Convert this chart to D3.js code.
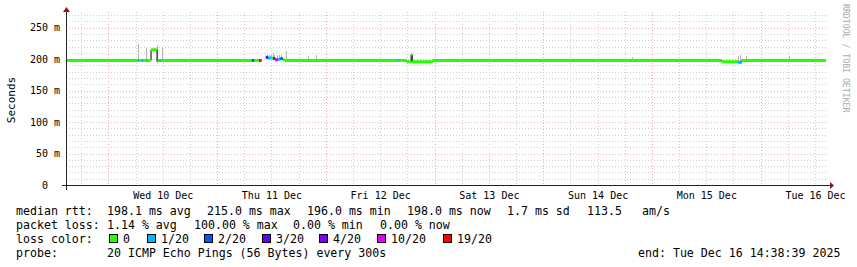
<!DOCTYPE html>
<html>
<head>
<meta charset="utf-8">
<script src="https://cdn.jsdelivr.net/npm/d3@7/dist/d3.min.js"></script>
<style>
  body { margin: 0; background: #fff; }
  text { font-family: "DejaVu Sans Mono", monospace; }
</style>
</head>
<body>
<div id="chart"></div>
<script>
// time range of the graph (UTC)
var startTime = "2025-12-09 14:38:39",
    endTime = "2025-12-16 14:38:39"

// median rtt as steps, each one lasts until the next start (ms, null = no data)
var stepStart = ["2025-12-09 14:38", "2025-12-10 06:30", "2025-12-10 06:45", "2025-12-10 07:25",
    "2025-12-10 07:40", "2025-12-10 08:30", "2025-12-10 08:45", "2025-12-10 09:25",
    "2025-12-10 10:45", "2025-12-10 11:00", "2025-12-10 11:20", "2025-12-10 11:35",
    "2025-12-11 07:40", "2025-12-11 08:10", "2025-12-11 09:15", "2025-12-11 09:50",
    "2025-12-11 10:45", "2025-12-11 11:15", "2025-12-11 11:55", "2025-12-11 12:20",
    "2025-12-11 12:50", "2025-12-11 13:25", "2025-12-11 14:00", "2025-12-11 14:30",
    "2025-12-11 15:00", "2025-12-12 15:55", "2025-12-12 16:10", "2025-12-12 17:55",
    "2025-12-12 18:50", "2025-12-12 19:05", "2025-12-12 23:40", "2025-12-15 15:25",
    "2025-12-15 19:00", "2025-12-15 19:50", "2025-12-16 14:25"]
var stepMedian = [198, 198, 198, 198,
    198, 198, 198, 215,
    196, 198, 198, 198,
    198, 198, 198, null,
    203, 202, 202, 201,
    199, 200, 201, 199,
    198, 198, 198, 196,
    207, 196, 198, 196,
    195, 198, null]
// lost pings out of 20
var stepLoss = [0, 1, 0, 1,
    0, 1, 0, 0,
    0, 0, 1, 0,
    2, 0, 19, 0,
    3, 1, 0, 4,
    10, 1, 2, 0,
    0, 1, 0, 0,
    0, 0, 0, 0,
    1, 0, 0]

// smoke (spread of the pings)
var smokeTime = ["2025-12-10 06:30", "2025-12-10 08:15", "2025-12-10 10:45", "2025-12-10 11:50",
    "2025-12-11 11:00", "2025-12-11 11:30", "2025-12-11 12:00", "2025-12-11 12:20",
    "2025-12-11 12:40", "2025-12-11 13:10", "2025-12-11 13:40", "2025-12-11 14:10",
    "2025-12-11 15:10", "2025-12-11 20:05", "2025-12-11 21:50", "2025-12-14 19:35",
    "2025-12-15 19:05", "2025-12-15 19:30", "2025-12-15 20:45", "2025-12-16 06:15"]
var smokeLow = [198, 198, 198, 198, 200, 200, 200, 199, 199, 198, 199, 199,
    198, 198, 198, 198, 195, 195, 198, 198]
var smokeHigh = [224, 218, 222, 218, 206, 207, 206, 210, 207, 206, 207, 206,
    213, 205, 206, 203, 205, 206, 205, 205]

var lossLevels = [0, 1, 2, 3, 4, 10, 19]
var lossLabels = ["0", "1/20", "2/20", "3/20", "4/20", "10/20", "19/20"]
var lossColors = ["#26ff00", "#00b8ff", "#0059ff", "#5e00ff", "#7e00ff", "#dd00ff", "#ff0000"]

var yTicks = [0, 50, 100, 150, 200, 250]

var rttStats = ["198.1 ms avg", "215.0 ms max", "196.0 ms min", "198.0 ms now", "1.7 ms sd", "113.5", "am/s"]
var lossStats = ["1.14 % avg", "100.00 % max", "0.00 % min", "0.00 % now"]
var probeText = "20 ICMP Echo Pings (56 Bytes) every 300s"

var W = 857, H = 267
var pLeft = 66, pRight = 827, pTop = 12, pBottom = 185

var parse = d3.utcParse("%Y-%m-%d %H:%M"),
    parseS = d3.utcParse("%Y-%m-%d %H:%M:%S")
var t0 = parseS(startTime), t1 = parseS(endTime)

var x = d3.scaleUtc().domain([t0, t1]).range([pLeft, pRight])
var y = d3.scaleLinear().domain([0, 275]).range([pBottom, pTop])
var lossColor = d3.scaleOrdinal().domain(lossLevels).range(lossColors)

var svg = d3.select("#chart")
  .append("svg")
    .attr("width", W)
    .attr("height", H)

var grid = svg.append("g").attr("shape-rendering", "crispEdges")
var minorCol = "#cfcfcf", majorCol = "#eab0b0"

// minor grid
d3.range(10, 280, 10).filter(function(v) { return v % 50 != 0 }).forEach(function(v) {
  var yy = Math.round(y(v)) + 0.5
  grid.append("line").attr("x1", pLeft).attr("x2", pRight).attr("y1", yy).attr("y2", yy)
    .attr("stroke", minorCol).attr("stroke-dasharray", "1,2")
})
d3.utcHour.every(6).range(t0, t1).forEach(function(d) {
  if (d.getUTCHours() == 0) return
  var xx = Math.round(x(d)) + 0.5
  grid.append("line").attr("x1", xx).attr("x2", xx).attr("y1", pTop).attr("y2", pBottom)
    .attr("stroke", minorCol).attr("stroke-dasharray", "1,2")
})
// major grid
yTicks.slice(1).forEach(function(v) {
  var yy = Math.round(y(v)) + 0.5
  grid.append("line").attr("x1", pLeft).attr("x2", pRight).attr("y1", yy).attr("y2", yy)
    .attr("stroke", majorCol).attr("stroke-dasharray", "1,2")
})
d3.utcDay.range(t0, t1).forEach(function(d) {
  var xx = Math.round(x(d)) + 0.5
  grid.append("line").attr("x1", xx).attr("x2", xx).attr("y1", pTop).attr("y2", pBottom)
    .attr("stroke", majorCol).attr("stroke-dasharray", "1,2")
})

var steps = stepStart.map(function(s, i) {
  return {t: parse(s), v: stepMedian[i], loss: stepLoss[i]}
})

// smoke
svg.append("g").attr("shape-rendering", "crispEdges")
  .selectAll("rect")
  .data(smokeTime)
  .enter()
  .append("rect")
    .attr("x", function(d) { return Math.round(x(parse(d))) })
    .attr("width", function(d) { return Math.max(1, Math.round(x(d3.utcMinute.offset(parse(d), 15)) - x(parse(d)))) })
    .attr("y", function(d, i) { return Math.round(y(smokeHigh[i])) })
    .attr("height", function(d, i) { return Math.round(y(smokeLow[i]) - y(smokeHigh[i])) })
    .attr("fill", "#b4b4b4")

// thin dark median line (shows at the jumps)
var thin = d3.line()
  .defined(function(d) { return d.v != null })
  .x(function(d) { return x(d.t) })
  .y(function(d) { return y(d.v) })
  .curve(d3.curveStepAfter)

svg.append("path")
  .datum(steps)
  .attr("d", thin)
  .attr("fill", "none")
  .attr("stroke", "#000")
  .attr("stroke-width", 1)

// thick median coloured by loss
svg.append("g")
  .selectAll("line")
  .data(steps.slice(0, -1).filter(function(d) { return d.v != null }))
  .enter()
  .append("line")
    .attr("x1", function(d) { return x(d.t) })
    .attr("x2", function(d) { return x(steps[steps.indexOf(d) + 1].t) })
    .attr("y1", function(d) { return y(d.v) })
    .attr("y2", function(d) { return y(d.v) })
    .attr("stroke", function(d) { return lossColor(d.loss) })
    .attr("stroke-width", 3)

// axes
var yAxis = svg.append("g")
  .attr("transform", "translate(" + pLeft + ",0)")
  .call(d3.axisLeft(y).tickValues(yTicks).tickSize(0).tickPadding(6)
    .tickFormat(function(d) { return d == 0 ? "0  " : d + " m" }))
yAxis.select(".domain").remove()
yAxis.selectAll("text").style("font-size", "10px").style("white-space", "pre")
  .attr("fill", "#000").style("font-family", "DejaVu Sans Mono")

var noons = d3.utcDay.range(d3.utcDay.floor(t0), t1)
  .map(function(d) { return d3.utcHour.offset(d, 12) })
  .filter(function(d) { return d > t0 && d < t1 })
var xAxis = svg.append("g")
  .attr("transform", "translate(0," + pBottom + ")")
  .call(d3.axisBottom(x).tickValues(noons).tickSize(0).tickPadding(7)
    .tickFormat(d3.utcFormat("%a %d %b")))
xAxis.select(".domain").remove()
xAxis.selectAll("text").style("font-size", "10px")
  .attr("fill", "#000").style("font-family", "DejaVu Sans Mono")

svg.append("line").attr("x1", 62).attr("x2", 831).attr("y1", pBottom + 0.5).attr("y2", pBottom + 0.5)
  .attr("stroke", "#222").attr("shape-rendering", "crispEdges")
svg.append("line").attr("x1", pLeft + 0.5).attr("x2", pLeft + 0.5).attr("y1", 190).attr("y2", pTop - 2)
  .attr("stroke", "#222").attr("shape-rendering", "crispEdges")
svg.append("path").attr("d", "M830,182 L834,185.5 L830,189 Z").attr("fill", "#8b1a1a")
svg.append("path").attr("d", "M63,12 L66.5,7 L70,12 Z").attr("fill", "#8b1a1a")

svg.append("text")
  .attr("transform", "translate(15,100) rotate(-90)")
  .attr("text-anchor", "middle")
  .style("font-size", "11px")
  .text("Seconds")

svg.append("text")
  .attr("transform", "translate(843,4) rotate(90)")
  .style("font-size", "8.2px")
  .attr("fill", "#aaa")
  .text("RRDTOOL / TOBI OETIKER")

// legend
var lg = svg.append("g").style("font-size", "11.6px").style("white-space", "pre")
function put(xx, yy, s) { lg.append("text").attr("x", xx).attr("y", yy).text(s) }

put(16, 215, "median rtt:")
var rttX = [107, 207, 307, 407, 507, 587, 642]
rttStats.forEach(function(s, i) { put(rttX[i], 215, s) })

put(16, 229, "packet loss:")
var lossX = [107, 194, 293, 380]
lossStats.forEach(function(s, i) { put(lossX[i], 229, s) })

put(16, 243, "loss color:")
var boxX = [109, 147, 204, 262, 319, 377, 443]
lossLabels.forEach(function(s, i) {
  lg.append("rect").attr("x", boxX[i] + 0.5).attr("y", 234.5).attr("width", 8).attr("height", 8)
    .attr("fill", lossColors[i]).attr("stroke", "#000").attr("shape-rendering", "crispEdges")
  put(boxX[i] + 14, 243, s)
})

put(16, 257, "probe:")
put(107, 257, probeText)
put(638, 257, "end: " + d3.utcFormat("%a %b %d %H:%M:%S %Y")(t1))
</script>
</body>
</html>
